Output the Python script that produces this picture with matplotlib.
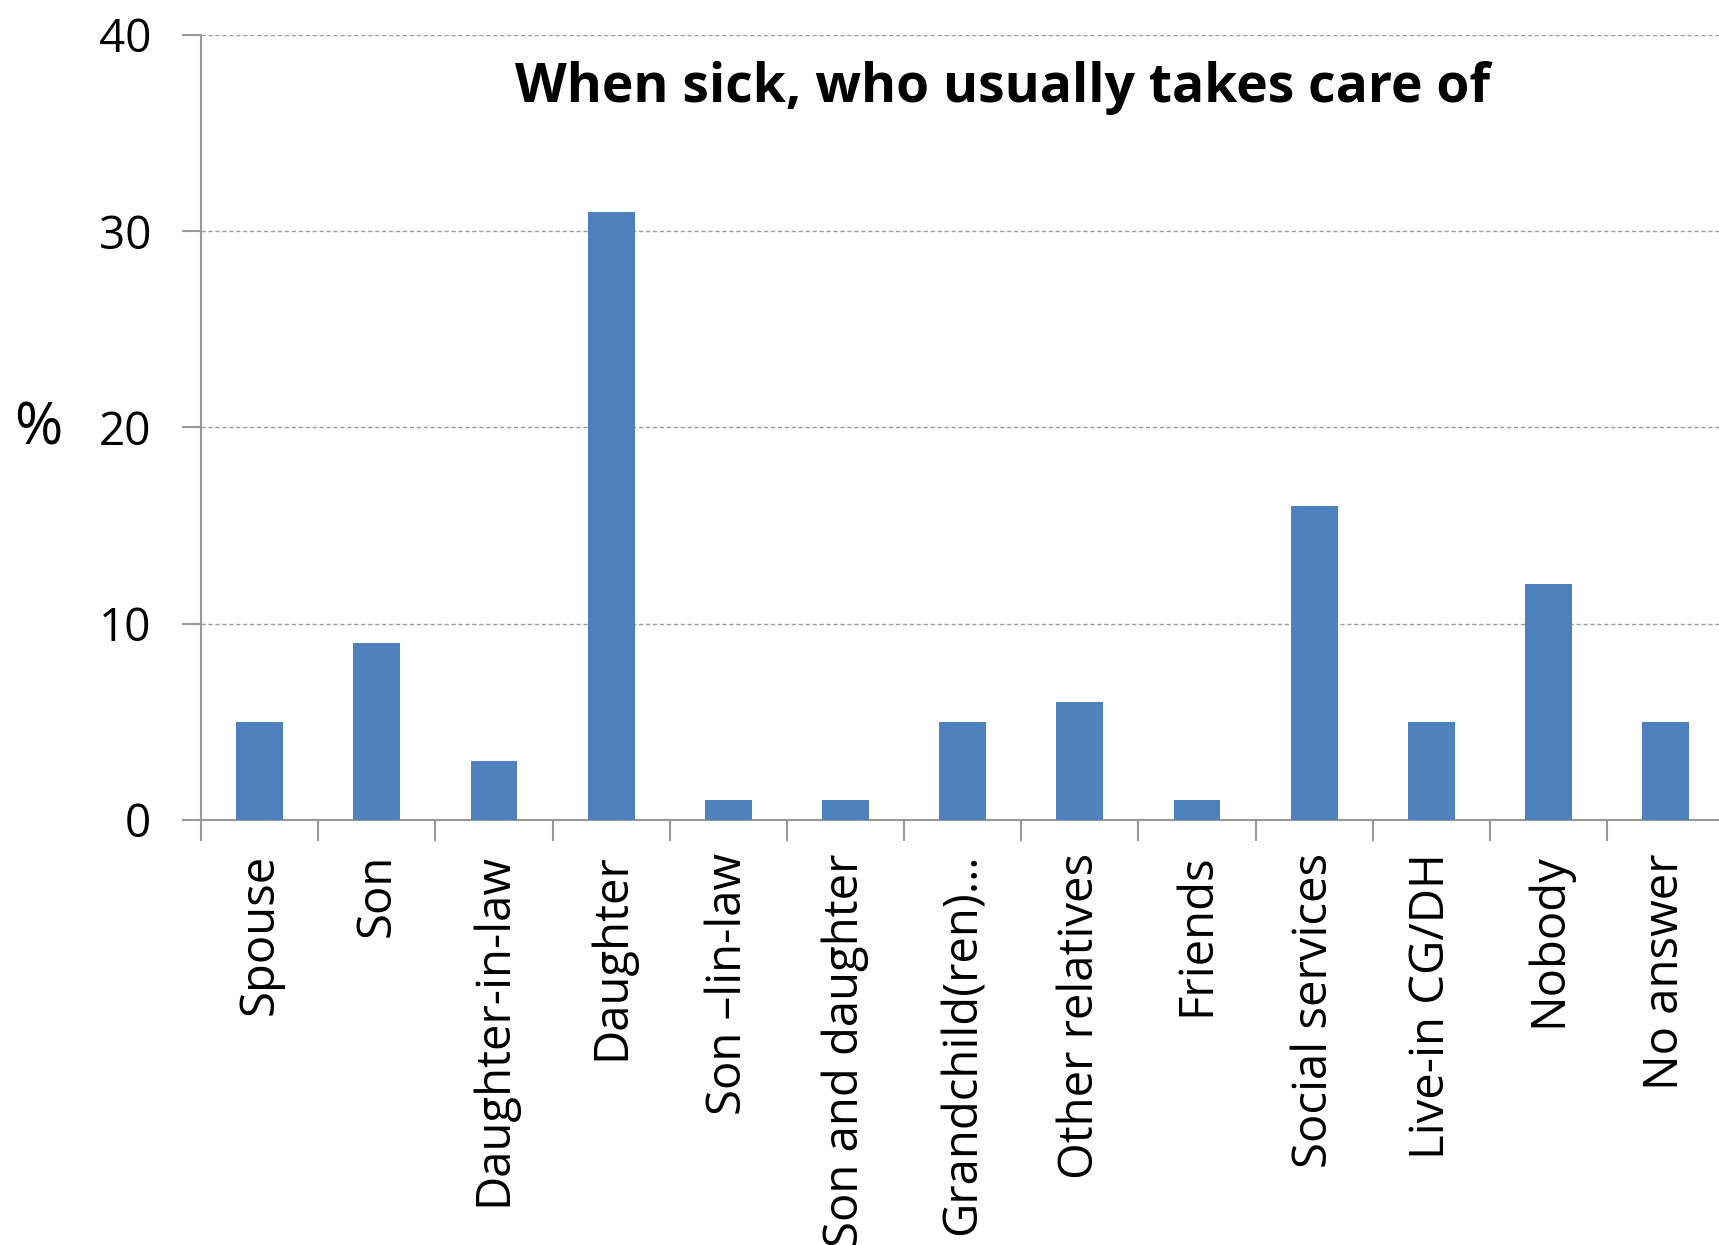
import matplotlib.pyplot as plt
import numpy as np

# Who takes care when sick (%)
categories = ["Spouse", "Son", "Daughter-in-law", "Daughter", "Son \u2013lin-law",
              "Son and daughter", "Grandchild(ren)\u2026", "Other relatives", "Friends",
              "Social services", "Live-in CG/DH", "Nobody", "No answer"]
percent = [5, 9, 3, 31, 1, 1, 5, 6, 1, 16, 5, 12, 5]
yticks = [0, 10, 20, 30, 40]

plt.rcParams['font.family'] = ['Open Sans', 'DejaVu Sans']

fig = plt.figure(figsize=(17.19, 12.45), dpi=100)
ax = fig.add_axes([0.117, 0.3414, 0.886, 0.6306])

x = np.arange(len(categories))
ax.bar(x, percent, width=0.4, color='#4F81BD', zorder=3)

ax.set_xlim(-0.5, len(categories) - 0.5)
ax.set_ylim(0, 40)
ax.set_yticks(yticks)
ax.yaxis.grid(True, linestyle=(0, (3, 2)), color='#9a9a9a', linewidth=1.0, zorder=0)

# x ticks sit between categories, labels centred under bars
ax.set_xticks(np.arange(-0.5, len(categories), 1.0))
ax.set_xticklabels([])
ax.set_xticks(x, minor=True)
ax.set_xticklabels(categories, minor=True, rotation=90, ha='center', va='top', fontsize=34)
ax.tick_params(axis='x', which='minor', length=0, pad=24)
ax.tick_params(axis='x', which='major', length=15, width=1.5, color='#999999', direction='out')
ax.tick_params(axis='y', length=14, width=1.5, color='#999999', labelsize=33, pad=22)

for side in ['top', 'right']:
    ax.spines[side].set_visible(False)
for side in ['left', 'bottom']:
    ax.spines[side].set_color('#999999')
    ax.spines[side].set_linewidth(1.5)

fig.text(0.583, 0.929, "When sick, who usually takes care of", ha='center', va='center',
         fontsize=38.5, fontweight='bold')
fig.text(0.022, 0.655, "%", ha='center', va='center', fontsize=42)

fig.savefig("out.png", dpi=100)
